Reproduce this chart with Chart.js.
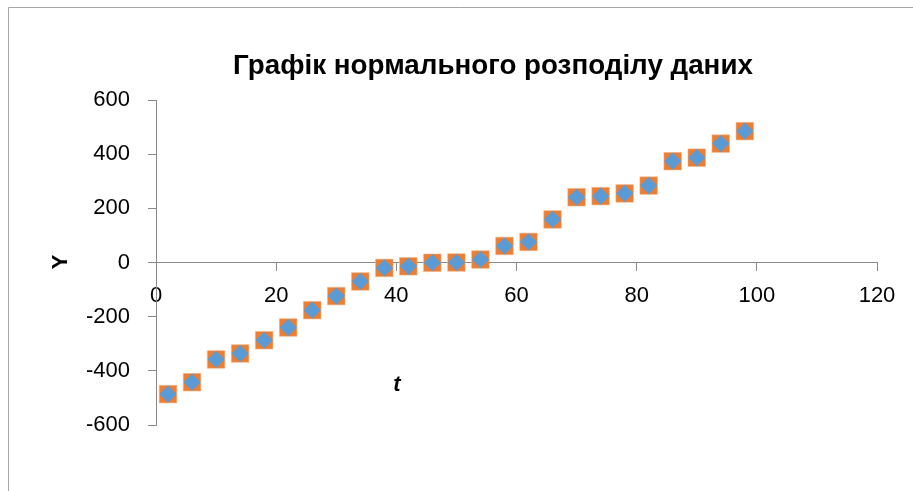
<!DOCTYPE html>
<html><head><meta charset="utf-8">
<script src="https://cdn.jsdelivr.net/npm/chart.js@4.4.0/dist/chart.umd.min.js"></script>
<style>html,body{margin:0;padding:0;background:#fff;}#wrap{width:913px;height:491px;position:relative;}</style>
</head><body><div id="wrap"><canvas id="c"></canvas></div>
<script>
const chartTitle = 'Графік нормального розподілу даних';
const xTitle = 't';
const yTitle = 'Y';
const tValues = [2, 6, 10, 14, 18, 22, 26, 30, 34, 38, 42, 46, 50, 54, 58, 62, 66, 70, 74, 78, 82, 86, 90, 94, 98];
const squareValues = [-486, -442, -358, -336, -287, -240, -176, -124, -70, -20, -14, -1, 0, 11, 61, 76, 159, 241, 245, 255, 284, 374, 387, 439, 485];
const diamondValues = [-486, -442, -358, -336, -287, -240, -176, -124, -70, -20, -14, -1, 0, 11, 61, 76, 159, 241, 245, 255, 284, 374, 387, 439, 485];
const xTickValues = [0, 20, 40, 60, 80, 100, 120];
const yTickValues = [-600, -400, -200, 0, 200, 400, 600];

const FONT = '"Liberation Sans", Arial, sans-serif';
const axisColor = '#898989';

const decor = {
  id: 'decor',
  afterDraw(chart) {
    const ctx = chart.ctx;
    ctx.save();
    ctx.strokeStyle = '#a6a6a6';
    ctx.lineWidth = 1;
    ctx.beginPath();
    ctx.moveTo(8.5, 491); ctx.lineTo(8.5, 7.5); ctx.lineTo(913, 7.5);
    ctx.stroke();
    ctx.fillStyle = '#000';
    ctx.textAlign = 'center';
    ctx.textBaseline = 'alphabetic';
    ctx.font = 'bold 100px ' + FONT;
    const w = ctx.measureText(chartTitle).width;
    const fs = 100 * 520 / w;
    ctx.font = 'bold ' + fs.toFixed(2) + 'px ' + FONT;
    ctx.fillText(chartTitle, 493, 74);
    ctx.font = 'italic bold 22px ' + FONT;
    ctx.textBaseline = 'middle';
    ctx.fillText(xTitle, 397, 385);
    ctx.translate(61, 262);
    ctx.rotate(-Math.PI / 2);
    ctx.font = 'bold 22px ' + FONT;
    ctx.fillText(yTitle, 0, 0);
    ctx.restore();
  }
};

new Chart(document.getElementById('c'), {
  type: 'scatter',
  data: {
    datasets: [
      {
        label: 'squares',
        data: tValues.map((t, i) => ({x: t, y: squareValues[i]})),
        pointStyle: 'rect',
        pointRadius: 12.4,
        pointHoverRadius: 12.4,
        backgroundColor: '#ED7D31',
        borderColor: '#F4B183',
        borderWidth: 0.6,
        order: 2
      },
      {
        label: 'diamonds',
        data: tValues.map((t, i) => ({x: t, y: diamondValues[i]})),
        pointStyle: 'rectRot',
        pointRadius: 8.6,
        pointHoverRadius: 8.6,
        backgroundColor: '#5B9BD5',
        borderColor: '#5B9BD5',
        borderWidth: 0,
        order: 1
      }
    ]
  },
  options: {
    responsive: true,
    maintainAspectRatio: false,
    animation: false,
    events: [],
    layout: {padding: {left: 0, right: 36, top: 100, bottom: 66}},
    plugins: {legend: {display: false}, title: {display: false}, tooltip: {enabled: false}},
    scales: {
      x: {
        type: 'linear',
        position: {y: 0},
        min: 0, max: 120,
        afterBuildTicks: s => { s.ticks = xTickValues.map(v => ({value: v})); },
        grid: {display: true, drawOnChartArea: false, drawTicks: true, tickLength: 8, color: axisColor},
        border: {display: true, color: axisColor, width: 1},
        ticks: {color: '#000', font: {family: FONT, size: 22}, padding: 12, maxRotation: 0, autoSkip: false}
      },
      y: {
        type: 'linear',
        position: 'left',
        min: -600, max: 600,
        afterBuildTicks: s => { s.ticks = yTickValues.map(v => ({value: v})); },
        afterFit: s => { s.width = 156; },
        grid: {display: true, drawOnChartArea: false, drawTicks: true, tickLength: 8, color: axisColor},
        border: {display: true, color: axisColor, width: 1},
        ticks: {color: '#000', font: {family: FONT, size: 22}, padding: 18, autoSkip: false}
      }
    }
  },
  plugins: [decor]
});
</script>
</body></html>
